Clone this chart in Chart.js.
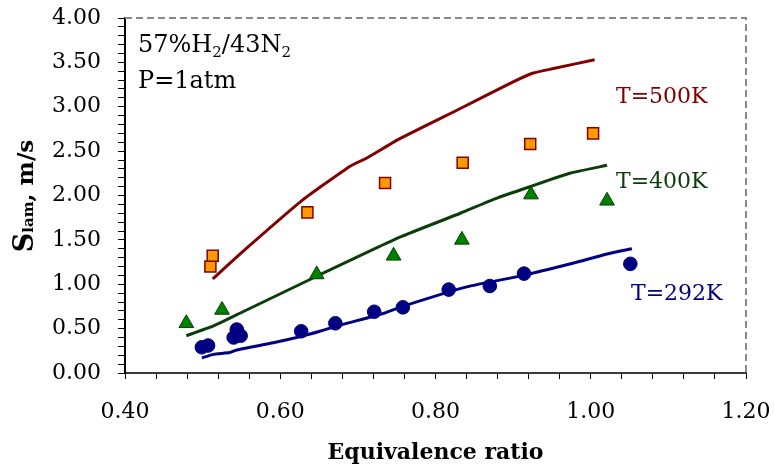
<!DOCTYPE html>
<html>
<head>
<meta charset="utf-8">
<script src="https://cdn.jsdelivr.net/npm/chart.js@4.4.1/dist/chart.umd.min.js"></script>
<style>
  html, body { margin: 0; padding: 0; background: #fff; }
  #wrap { width: 774px; height: 466px; }
</style>
</head>
<body>
<div id="wrap"><canvas id="c" width="774" height="466"></canvas></div>
<script>
// Measured laminar flame speeds (symbols)
const phi292 = [0.499, 0.507, 0.540, 0.544, 0.549, 0.627, 0.671, 0.721, 0.758, 0.817, 0.870, 0.914, 1.051];
const s292   = [0.29, 0.31, 0.40, 0.49, 0.42, 0.47, 0.56, 0.69, 0.74, 0.94, 0.98, 1.12, 1.23];

const phi400 = [0.479, 0.525, 0.647, 0.746, 0.834, 0.923, 1.021];
const s400   = [0.56, 0.71, 1.11, 1.32, 1.50, 2.01, 1.94];

const phi500 = [0.510, 0.513, 0.635, 0.735, 0.835, 0.922, 1.003];
const s500   = [1.20, 1.32, 1.81, 2.14, 2.37, 2.58, 2.70];

// Computed flame speeds (lines)
const phiCalc292 = [0.499, 0.514, 0.535, 0.544, 0.591, 0.626, 0.651, 0.677, 0.733, 0.754, 0.840, 0.913, 0.978, 1.021, 1.053];
const sCalc292   = [0.17, 0.21, 0.23, 0.26, 0.34, 0.41, 0.47, 0.54, 0.67, 0.74, 0.97, 1.10, 1.24, 1.34, 1.40];

const phiCalc400 = [0.479, 0.514, 0.552, 0.647, 0.754, 0.832, 0.879, 0.922, 0.973, 1.021];
const sCalc400   = [0.42, 0.53, 0.69, 1.09, 1.53, 1.80, 1.97, 2.10, 2.25, 2.34];

const phiCalc500 = [0.513, 0.552, 0.629, 0.690, 0.711, 0.754, 0.832, 0.900, 0.926, 0.952, 1.005];
const sCalc500   = [1.06, 1.37, 1.95, 2.33, 2.42, 2.64, 2.98, 3.28, 3.38, 3.43, 3.53];

// Axis ticks
const xTickLabels = [0.40, 0.60, 0.80, 1.00, 1.20];
const yTickLabels = [0.00, 0.50, 1.00, 1.50, 2.00, 2.50, 3.00, 3.50, 4.00];

const FONT = '"DejaVu Serif", "Liberation Serif", serif';
const RED = '#800000', GREEN = '#0b3d0b', BLUE = '#000080';

const pts = (xs, ys) => xs.map((x, i) => ({ x: x, y: ys[i] }));
const isLabel = (v, list) => list.some(t => Math.abs(t - v) < 1e-6);

// Frame, annotations and the rotated y-axis title
const decorations = {
  id: 'decorations',
  beforeDatasetsDraw(chart) {
    const { ctx, chartArea: a } = chart;
    ctx.save();
    ctx.strokeStyle = '#8a8a8a';
    ctx.lineWidth = 2;
    ctx.setLineDash([7, 4]);
    ctx.beginPath();
    ctx.moveTo(a.left, a.top);
    ctx.lineTo(a.right, a.top);
    ctx.lineTo(a.right, a.bottom);
    ctx.stroke();
    ctx.restore();
  },
  afterDraw(chart) {
    const { ctx } = chart;
    ctx.save();
    ctx.textBaseline = 'alphabetic';
    ctx.textAlign = 'left';

    // mixture label with subscripts
    const parts = [['57%H', 24, 0], ['2', 15, 5], ['/43N', 24, 0], ['2', 15, 5]];
    let x = 138;
    ctx.fillStyle = '#000';
    for (const [t, size, dy] of parts) {
      ctx.font = size + 'px ' + FONT;
      ctx.fillText(t, x, 52 + dy);
      x += ctx.measureText(t).width;
    }
    ctx.font = '24px ' + FONT;
    ctx.fillText('P=1atm', 138, 88);

    // series labels
    ctx.font = '22px ' + FONT;
    ctx.fillStyle = RED;   ctx.fillText('T=500K', 616, 103);
    ctx.fillStyle = GREEN; ctx.fillText('T=400K', 616, 188);
    ctx.fillStyle = BLUE;  ctx.fillText('T=292K', 631, 300);

    // y-axis title: S_lam, m/s
    const tparts = [['S', 'bold 27px ' + FONT], ['lam', 'bold 15px ' + FONT], [', m/s', 'bold 23px ' + FONT]];
    let total = 0;
    for (const [t, f] of tparts) { ctx.font = f; total += ctx.measureText(t).width; }
    ctx.translate(33, 196 + total / 2);
    ctx.rotate(-Math.PI / 2);
    ctx.fillStyle = '#000';
    let px = 0;
    for (const [t, f] of tparts) {
      ctx.font = f;
      ctx.fillText(t, px, 0);
      px += ctx.measureText(t).width;
    }
    ctx.restore();
  }
};

const markerSet = (label, xs, ys, style, radius, fill, border, bw) => ({
  label, data: pts(xs, ys), showLine: false, order: 0,
  pointStyle: style, pointRadius: radius, pointBackgroundColor: fill,
  pointBorderColor: border, pointBorderWidth: bw
});
const lineSet = (label, xs, ys, color) => ({
  label, data: pts(xs, ys), showLine: true, order: 1,
  borderColor: color, borderWidth: 3, pointRadius: 0, tension: 0.15, fill: false
});

new Chart(document.getElementById('c'), {
  type: 'scatter',
  data: {
    datasets: [
      markerSet('292K', phi292, s292, 'circle', 6.8, BLUE, BLUE, 1),
      markerSet('400K', phi400, s400, 'triangle', 8.5, '#008000', '#004000', 1),
      markerSet('500K', phi500, s500, 'rect', 7.8, '#ff9900', RED, 1.5),
      lineSet('calc 292K', phiCalc292, sCalc292, BLUE),
      lineSet('calc 400K', phiCalc400, sCalc400, GREEN),
      lineSet('calc 500K', phiCalc500, sCalc500, RED)
    ]
  },
  options: {
    responsive: false,
    animation: false,
    layout: { padding: { top: 18, right: 28, left: 0, bottom: 0 } },
    plugins: { legend: { display: false }, tooltip: { enabled: false } },
    scales: {
      x: {
        type: 'linear', min: 0.4, max: 1.2,
        afterFit: s => { s.height = 93; s.paddingLeft = 0; s.paddingRight = 0; },
        ticks: {
          stepSize: 0.04, autoSkip: false, maxRotation: 0, padding: 20,
          color: '#000', font: { family: FONT, size: 22 },
          callback: v => isLabel(v, xTickLabels) ? v.toFixed(2) : ''
        },
        grid: { drawOnChartArea: false, drawTicks: true, tickLength: 6, color: '#000', lineWidth: 1 },
        border: { display: true, color: '#3a3a3a', width: 2, dash: [7, 3] },
        title: { display: true, text: 'Equivalence ratio', color: '#000',
                 font: { family: FONT, size: 22, weight: 'bold' }, padding: { top: 4, bottom: 0 } }
      },
      y: {
        type: 'linear', min: 0, max: 4,
        afterFit: s => { s.width = 125; s.paddingTop = 0; s.paddingBottom = 0; },
        ticks: {
          stepSize: 0.1, autoSkip: false, padding: 17,
          color: '#000', font: { family: FONT, size: 22 },
          callback: v => isLabel(v, yTickLabels) ? v.toFixed(2) : ''
        },
        grid: { drawOnChartArea: false, drawTicks: true, tickLength: 7, color: '#000', lineWidth: 1 },
        border: { display: true, color: '#000', width: 2 }
      }
    }
  },
  plugins: [decorations]
});
</script>
</body>
</html>
